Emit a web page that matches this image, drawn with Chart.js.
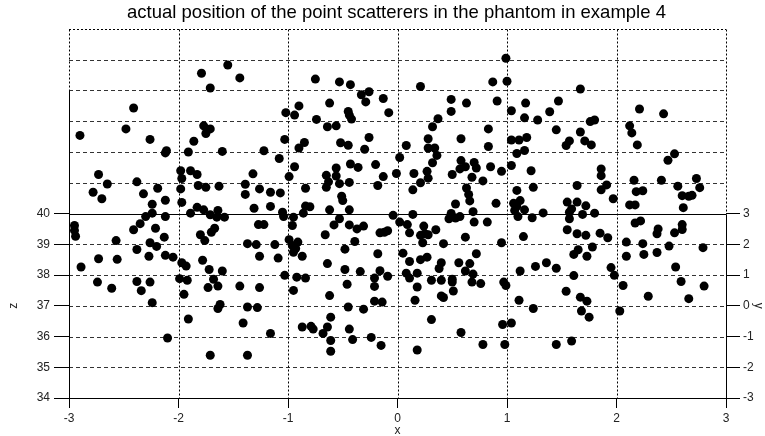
<!DOCTYPE html>
<html>
<head>
<meta charset="utf-8">
<script src="https://cdn.jsdelivr.net/npm/chart.js@4.4.0/dist/chart.umd.min.js"></script>
<style>
  html, body { margin: 0; padding: 0; background: #ffffff; }
  #wrap { width: 765px; height: 436px; }
</style>
</head>
<body>
<div id="wrap"><canvas id="myChart" width="765" height="436"></canvas></div>
<script>
const titleText = "actual position of the point scatterers in the phantom in example 4";
const xTicks = [-3, -2, -1, 0, 1, 2, 3];
const zTicks = [34, 35, 36, 37, 38, 39, 40];
const yTicks = [-3, -2, -1, 0, 1, 2, 3];
const zMin = 34, zMax = 46;

// scatterer positions (x, z)
const xPos = [
  -1.79,-1.55,-1.44,-1.71,-2.41,-2.48,-2.90,-2.26,-1.77,-1.71,
  -1.75,-1.86,-2.11,-2.12,-1.91,-1.60,-1.22,-1.08,-1.02,-0.94,
  -0.90,-1.03,-0.85,-0.90,-0.94,-0.99,-0.84,-2.73,-2.65,-2.38,
  -2.78,-2.70,-2.32,-2.19,-2.24,-2.12,-2.30,-2.24,-2.12,-1.98,
  -1.89,-1.83,-1.97,-1.98,-1.97,-1.82,-1.75,-1.63,-1.83,-1.77,
  -1.89,-1.71,-1.64,-1.58,-1.65,-1.32,-1.39,-1.39,-1.26,-1.16,
  -1.07,-1.31,-1.16,-1.05,-1.04,-0.95,-0.86,-0.84,-0.80,
  -0.75,-0.53,-0.43,-0.33,-0.26,-0.29,-0.13,-0.62,-0.45,-0.44,
  -0.42,-0.08,-0.74,-0.64,-0.56,0.21,0.49,0.63,0.49,0.37,
  0.32,0.87,1.00,0.99,0.91,0.83,1.04,1.17,1.16,1.28,
  1.39,-0.52,-0.45,-0.26,-0.30,0.08,0.02,0.28,0.28,0.34,
  0.36,0.32,0.58,0.83,1.04,1.11,1.18,1.09,1.16,1.04,
  1.22,1.24,1.09,-0.65,-0.56,-0.56,-0.43,-0.36,-0.20,-0.13,
  -0.63,-0.65,-0.53,-0.44,-0.18,-0.51,-0.50,-0.01,0.15,0.27,
  0.28,0.21,0.14,0.50,0.58,0.57,0.62,0.70,0.72,0.68,
  0.78,0.85,0.95,0.63,0.65,0.66,0.53,0.90,1.06,1.12,
  1.09,1.16,1.07,-0.62,-0.44,-0.53,-0.04,0.14,0.02,0.49,
  0.57,0.47,0.53,0.69,1.33,1.23,1.10,
  1.67,1.47,1.76,1.80,1.45,1.67,1.57,1.54,1.71,1.77,
  2.21,2.43,2.12,2.14,2.19,2.53,2.47,1.86,1.86,1.91,
  1.86,1.64,1.97,1.55,1.64,1.72,1.59,1.57,1.69,1.80,
  1.57,2.16,2.41,2.18,2.24,2.12,2.17,2.22,2.56,2.73,
  2.76,2.60,2.66,2.69,2.61,
  -2.95,-2.95,-2.94,-2.35,-2.41,-2.21,-2.13,-2.57,-2.26,-2.20,
  -2.38,-2.73,-2.56,-2.27,-2.12,-2.05,-1.97,-1.93,-2.89,-1.80,
  -1.76,-1.70,-1.67,-1.27,-1.22,-1.37,-1.29,-1.12,-1.26,-1.09,
  -0.99,-0.96,-0.95,-0.96,-0.91,-0.93,-1.78,-1.72,-1.60,-1.99,
  -1.92,-1.68,-1.73,-1.64,-1.44,-1.26,-1.03,-0.95,-2.74,-2.61,
  -2.38,-2.26,-2.34,-1.95,-2.24,-1.62,-1.64,-1.37,-1.28,-1.91,
  -1.41,-1.16,-2.10,-1.71,-1.37,
  -0.58,-0.44,-0.37,-0.31,-0.66,-0.16,-0.12,-0.09,-0.39,-0.87,
  -0.48,-0.18,-0.64,-0.48,-0.34,-0.16,-0.09,-0.92,-0.84,-0.46,
  -0.21,-0.21,-0.62,-0.21,-0.14,-0.45,-0.31,-0.61,-0.87,-0.79,
  -0.77,-0.64,-0.68,-0.44,-0.61,-0.41,-0.24,-0.15,-0.61,0.09,
  0.11,0.24,0.21,0.25,0.28,0.35,0.23,0.42,0.62,0.05,
  0.11,0.21,0.27,0.40,0.38,0.56,0.66,0.72,0.08,0.18,
  0.11,0.18,0.16,0.31,0.40,0.50,0.50,0.62,0.69,0.68,
  0.76,0.51,0.40,0.42,0.31,0.58,0.18,0.78,0.70,0.82,
  0.95,0.97,0.99,1.12,1.11,0.96,1.04,0.98,1.15,
  1.55,1.64,1.72,1.85,1.92,1.65,1.61,1.73,1.78,1.26,
  1.36,1.45,1.61,1.54,1.67,1.73,1.24,1.68,1.75,1.45,
  1.59,1.95,1.98,2.06,2.03,2.17,2.09,2.24,2.25,2.09,
  2.38,2.37,2.60,2.60,2.53,2.48,2.37,2.79,2.54,2.59,
  2.80,2.29,2.66
];
const zPos = [
  44.56,44.83,44.41,44.08,43.43,42.75,42.54,42.41,42.85,42.75,
  42.60,42.35,42.04,41.97,42.00,42.02,42.04,41.79,43.28,43.20,
  43.50,42.41,42.31,42.13,41.52,41.20,40.82,41.27,40.96,41.03,
  40.69,40.48,40.64,40.82,40.30,40.43,39.90,40.01,39.90,41.39,
  41.39,41.27,41.14,40.80,40.36,40.91,40.85,40.89,40.20,40.12,
  40.01,39.96,40.10,39.88,39.88,41.29,40.95,40.62,40.80,40.69,
  40.67,40.17,40.23,40.04,39.90,39.88,40.01,40.24,40.22,
  44.37,44.28,44.19,43.86,43.96,43.63,43.74,43.59,43.32,43.20,
  43.07,43.28,43.06,42.82,42.85,44.13,43.71,43.59,43.32,43.08,
  42.82,44.28,44.30,45.05,43.66,42.75,43.34,43.59,43.11,43.04,
  43.31,42.30,42.22,42.47,42.09,42.21,41.82,42.43,42.13,42.13,
  41.89,41.65,42.43,42.18,42.39,42.39,42.47,41.95,42.05,41.56,
  41.39,40.85,40.75,41.24,41.22,41.48,41.61,41.50,41.59,41.20,
  41.03,40.85,40.97,41.01,40.91,40.56,40.42,41.30,41.30,41.37,
  41.15,41.00,40.77,41.27,41.72,41.45,41.52,41.66,41.48,41.18,
  41.06,41.52,41.37,40.83,40.62,40.41,40.31,40.33,40.33,40.42,
  40.23,40.12,40.10,40.12,40.12,39.83,39.94,39.97,39.72,40.00,
  39.90,39.83,39.85,40.06,40.02,39.86,39.90,
  44.05,43.66,42.99,43.04,42.72,42.65,42.36,42.21,42.36,42.23,
  43.40,43.24,42.85,42.62,42.23,41.94,41.73,41.45,41.23,40.93,
  40.77,40.91,40.48,40.37,40.37,40.25,40.15,40.04,39.97,40.01,
  39.83,41.08,41.08,40.71,40.74,40.28,40.28,39.76,40.89,41.14,
  40.84,40.58,40.56,40.59,40.19,
  39.61,39.45,39.26,39.67,39.47,39.52,39.23,39.12,39.05,38.93,
  38.83,38.53,38.51,38.61,38.64,38.58,38.40,38.29,38.26,39.31,
  39.12,39.39,39.52,39.64,39.64,39.02,38.99,38.99,38.61,38.55,
  39.15,38.96,38.74,39.61,39.07,38.86,38.48,38.18,38.13,37.88,
  37.83,37.86,37.59,37.64,37.64,37.59,37.99,37.50,37.77,37.57,
  37.79,37.77,37.49,37.37,37.10,37.04,36.91,36.96,36.94,36.57,
  36.44,36.10,35.95,35.39,35.39,
  39.63,39.63,39.50,39.59,39.31,39.37,39.39,39.44,39.09,38.61,
  38.84,38.69,38.37,38.18,38.11,38.14,37.96,37.93,37.90,37.70,
  37.90,37.63,37.33,37.15,37.12,36.96,36.89,36.63,36.31,36.33,
  36.24,36.31,36.10,36.24,35.87,35.90,35.97,35.71,35.52,39.64,
  39.37,39.59,39.29,39.34,39.31,39.47,39.05,39.02,39.23,38.71,
  38.44,38.50,38.58,38.40,38.21,38.40,38.37,38.69,38.06,38.06,
  37.90,37.61,37.18,37.83,37.83,37.86,37.77,38.13,38.03,37.77,
  37.72,37.48,37.32,37.27,36.55,36.13,35.56,35.74,39.72,39.72,
  39.05,37.77,37.66,38.13,37.18,36.39,36.44,35.74,39.25,
  39.47,39.34,39.29,39.36,39.21,38.82,38.67,38.61,38.91,38.28,
  38.40,38.22,37.98,37.47,37.28,37.15,36.91,36.83,36.63,35.74,
  35.85,38.24,37.99,37.66,36.83,39.69,39.07,39.02,38.67,38.61,
  39.50,39.34,39.64,39.48,39.37,38.94,38.73,38.89,38.26,37.79,
  37.64,37.31,37.23
];

const points = xPos.map((x, i) => ({ x: x, y: zPos[i] }));

const FONT = "'Liberation Sans', Arial, sans-serif";
Chart.defaults.font.family = FONT;
Chart.defaults.font.size = 12;
Chart.defaults.color = "#222222";

const line = (ctx, x1, y1, x2, y2) => {
  ctx.beginPath();
  ctx.moveTo(x1, y1);
  ctx.lineTo(x2, y2);
  ctx.stroke();
};

// grid, frame and labels drawn from the scales
const frame = {
  id: "frame",
  beforeDatasetsDraw(chart) {
    const { ctx, chartArea: a, scales } = chart;
    const xs = scales.x, zs = scales.z;
    const px = (v) => Math.round(xs.getPixelForValue(v)) + 0.5;
    const pz = (v) => Math.round(zs.getPixelForValue(v)) + 0.5;
    ctx.save();
    ctx.lineWidth = 1;
    // horizontal dashed grid
    ctx.strokeStyle = "#333333";
    ctx.setLineDash([4, 3]);
    for (let v = zMin + 1; v < zMax; v++) {
      if (v === 40) continue;
      line(ctx, a.left, pz(v), a.right, pz(v));
    }
    // dotted verticals and top border
    ctx.strokeStyle = "#000000";
    ctx.setLineDash([2, 2]);
    xTicks.forEach((v) => {
      if (v === xTicks[0]) line(ctx, px(v), pz(zMax), px(v), pz(44));
      else if (v === xTicks[xTicks.length - 1]) line(ctx, px(v), pz(zMax), px(v), pz(40));
      else line(ctx, px(v), pz(zMax), px(v), pz(zMin));
    });
    line(ctx, a.left, pz(zMax), a.right, pz(zMax));
    // solid axes
    ctx.setLineDash([]);
    line(ctx, px(xTicks[0]), pz(44), px(xTicks[0]), pz(zMin));
    line(ctx, px(xTicks[xTicks.length - 1]), pz(40), px(xTicks[xTicks.length - 1]), pz(zMin));
    line(ctx, a.left, pz(40), a.right, pz(40));
    line(ctx, a.left, pz(zMin), a.right, pz(zMin));
    ctx.restore();
  },
  afterDraw(chart) {
    const { ctx, chartArea: a, scales } = chart;
    const zMid = (scales.z.getPixelForValue(zTicks[0]) + scales.z.getPixelForValue(zTicks[zTicks.length - 1])) / 2;
    ctx.save();
    ctx.fillStyle = "#000000";
    ctx.textAlign = "center";
    ctx.textBaseline = "middle";
    ctx.font = "18.5px " + FONT;
    ctx.fillText(titleText, (a.left + a.right) / 2 - 1, 13);
    ctx.font = "12px " + FONT;
    ctx.fillStyle = "#222222";
    ctx.fillText("x", (a.left + a.right) / 2, 431);
    ctx.save();
    ctx.translate(14, zMid);
    ctx.rotate(-Math.PI / 2);
    ctx.fillText("z", 0, 0);
    ctx.restore();
    ctx.save();
    ctx.translate(758, zMid);
    ctx.rotate(Math.PI / 2);
    ctx.fillText("y", 0, 0);
    ctx.restore();
    ctx.restore();
  },
};

const tickCol = (limit) => (c) => (c.tick && c.tick.value <= limit ? "#000000" : "rgba(0,0,0,0)");

const ctx = document.getElementById("myChart").getContext("2d");
const myChart = new Chart(ctx, {
  type: "scatter",
  data: {
    datasets: [
      {
        label: "scatterers",
        data: points,
        backgroundColor: "#000000",
        borderColor: "#000000",
        borderWidth: 0,
        pointRadius: 4.5,
        pointHoverRadius: 4.5,
      },
    ],
  },
  options: {
    responsive: false,
    animation: false,
    layout: { padding: { top: 29, left: 0, right: 0, bottom: 0 } },
    plugins: { legend: { display: false }, title: { display: false }, tooltip: { enabled: false } },
    scales: {
      x: {
        type: "linear",
        min: xTicks[0],
        max: xTicks[xTicks.length - 1],
        afterBuildTicks: (s) => { s.ticks = xTicks.map((v) => ({ value: v })); },
        afterFit: (s) => { s.height = 38; },
        border: { display: false },
        grid: { drawOnChartArea: false, tickLength: 10, tickColor: "#000000" },
        ticks: { padding: 3, color: "#222222" },
      },
      z: {
        type: "linear",
        position: "left",
        min: zMin,
        max: zMax,
        afterBuildTicks: (s) => { s.ticks = []; for (let v = zMin; v <= zMax; v++) s.ticks.push({ value: v }); },
        afterFit: (s) => { s.width = 69; },
        border: { display: false },
        grid: { drawOnChartArea: false, tickLength: 15, tickColor: tickCol(zTicks[zTicks.length - 1]) },
        ticks: { padding: 4, callback: (v) => (zTicks.includes(v) ? String(v) : "") },
      },
      y: {
        type: "linear",
        position: "right",
        min: yTicks[0],
        max: yTicks[0] + (zMax - zMin),
        afterBuildTicks: (s) => { s.ticks = []; for (let v = s.min; v <= s.max; v++) s.ticks.push({ value: v }); },
        afterFit: (s) => { s.width = 39; },
        border: { display: false },
        grid: { drawOnChartArea: false, tickLength: 14, tickColor: tickCol(yTicks[yTicks.length - 1]) },
        ticks: { padding: 3, callback: (v) => (yTicks.includes(v) ? String(v) : "") },
      },
    },
  },
  plugins: [frame],
});
</script>
</body>
</html>
